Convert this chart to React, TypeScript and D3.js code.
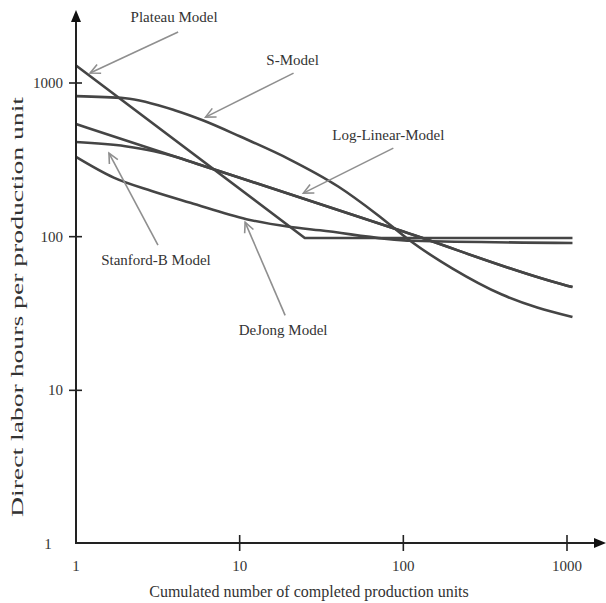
import React from 'react';
import * as d3 from 'd3';

// (log-log)
const plateauX = [1, 25, 1080];
const plateauY = [1300, 98, 98];

const sModelX = [1, 2, 4, 6, 10, 20, 40, 70, 110, 200, 400, 1080];
const sModelY = [822, 795, 665, 570, 450, 320, 212, 138, 94, 62, 42, 30];

const logLinearX = [1, 10, 100, 1000, 1080];
const logLinearY = [541, 242, 108, 48, 47];

const stanfordX = [1, 2, 3, 4, 6, 10, 100, 1000, 1080];
const stanfordY = [413, 388, 360, 333, 288, 242, 108, 48, 47];

const dejongX = [1, 1.7, 2.9, 5, 11, 20, 31, 114, 1080];
const dejongY = [330, 242, 198, 166, 130, 116, 110, 94, 91];

const xTicks = [1, 10, 100, 1000];
const yTicks = [1, 10, 100, 1000];

const series = [
  { name: 'Plateau Model', xs: plateauX, ys: plateauY, smooth: false },
  { name: 'S-Model', xs: sModelX, ys: sModelY, smooth: true },
  { name: 'Log-Linear-Model', xs: logLinearX, ys: logLinearY, smooth: true },
  { name: 'Stanford-B Model', xs: stanfordX, ys: stanfordY, smooth: true },
  { name: 'DeJong Model', xs: dejongX, ys: dejongY, smooth: true },
];

// arrow tip sits on the curve (data units), tail and label are pixel offsets from it
const notes = [
  { label: 'Plateau Model', tx: 1.22, ty: 1160, dx: 88, dy: -41, lx: 84, ly: -51 },
  { label: 'S-Model', tx: 6.19, ty: 600, dx: 88, dy: -44, lx: 87, ly: -52 },
  { label: 'Log-Linear-Model', tx: 24.5, ty: 192, dx: 90, dy: -45, lx: 85, ly: -53 },
  { label: 'Stanford-B Model', tx: 1.59, ty: 350, dx: 49, dy: 92, lx: 47, ly: 112 },
  { label: 'DeJong Model', tx: 10.8, ty: 124, dx: 40, dy: 93, lx: 38, ly: 113 },
];

const W = 606;
const H = 603;
const ox = 76;
const oy = 544;
const font = '"Liberation Serif", "Times New Roman", serif';

export default function App() {
  const x = d3.scaleLog().domain([1, 1000]).range([ox, 567]);
  const y = d3.scaleLog().domain([1, 1000]).range([oy, 83]);

  const pathFor = (s: any) => {
    const pts = s.xs.map((v: number, i: number) => [v, s.ys[i]]);
    return d3.line<number[]>()
      .x(d => x(d[0]))
      .y(d => y(d[1]))
      .curve(s.smooth ? d3.curveMonotoneX : d3.curveLinear)(pts) || '';
  };

  const arrowHead = (x0: number, y0: number, x1: number, y1: number) => {
    // open V at (x1,y1) pointing from (x0,y0)
    const a = Math.atan2(y1 - y0, x1 - x0);
    const len = 11;
    const sp = 0.45;
    const p1 = [x1 - len * Math.cos(a - sp), y1 - len * Math.sin(a - sp)];
    const p2 = [x1 - len * Math.cos(a + sp), y1 - len * Math.sin(a + sp)];
    return `M${p1[0]},${p1[1]}L${x1},${y1}L${p2[0]},${p2[1]}`;
  };

  return (
    <svg width={W} height={H} style={{ position: 'absolute', left: 0, top: 0, background: '#fff' }}
      fontFamily={font}>
      {/* curves */}
      {series.map(s => (
        <path key={s.name} d={pathFor(s)} fill="none" stroke="#454545" strokeWidth={2.6}
          strokeLinejoin="round" />
      ))}

      {/* axes */}
      <line x1={ox} y1={oy} x2={ox} y2={18} stroke="#222" strokeWidth={2} />
      <path d={`M${ox},10L${ox - 5},22L${ox + 5},22Z`} fill="#111" />
      <line x1={ox - 1} y1={oy - 1} x2={598} y2={oy - 1} stroke="#222" strokeWidth={2} />
      <path d={`M606,${oy - 1}L594,${oy - 6}L594,${oy + 4}Z`} fill="#111" />

      {yTicks.map(t => (
        <g key={'y' + t}>
          {t > 1 && <line x1={ox - 7} x2={ox + 6} y1={y(t)} y2={y(t)} stroke="#222" strokeWidth={1.6} />}
          <text x={t === 1 ? 48 : ox - 13} y={y(t) + 5} textAnchor={t === 1 ? 'middle' : 'end'}
            fontSize={15} fill="#333">{t}</text>
        </g>
      ))}
      {xTicks.map(t => (
        <g key={'x' + t}>
          {t > 1 && <line x1={x(t)} x2={x(t)} y1={oy - 9} y2={oy + 7} stroke="#222" strokeWidth={1.6} />}
          <text x={x(t)} y={oy + 27} textAnchor="middle" fontSize={15} fill="#333">{t}</text>
        </g>
      ))}

      <text x={309} y={597} textAnchor="middle" fontSize={16} fill="#333">
        Cumulated number of completed production units
      </text>
      <text transform="translate(23,307) rotate(-90)" textAnchor="middle" fontSize={16} fill="#333"
        textLength={420} lengthAdjust="spacingAndGlyphs">
        Direct labor hours per production unit
      </text>

      {/* annotations */}
      {notes.map(n => {
        const px = x(n.tx);
        const py = y(n.ty);
        const qx = px + n.dx;
        const qy = py + n.dy;
        return (
          <g key={n.label}>
            <line x1={qx} y1={qy} x2={px} y2={py} stroke="#8f8f8f" strokeWidth={1.6} />
            <path d={arrowHead(qx, qy, px, py)} fill="none" stroke="#8f8f8f" strokeWidth={1.6} />
            <text x={px + n.lx} y={py + n.ly} textAnchor="middle" fontSize={15} fill="#333">
              {n.label}
            </text>
          </g>
        );
      })}
    </svg>
  );
}
